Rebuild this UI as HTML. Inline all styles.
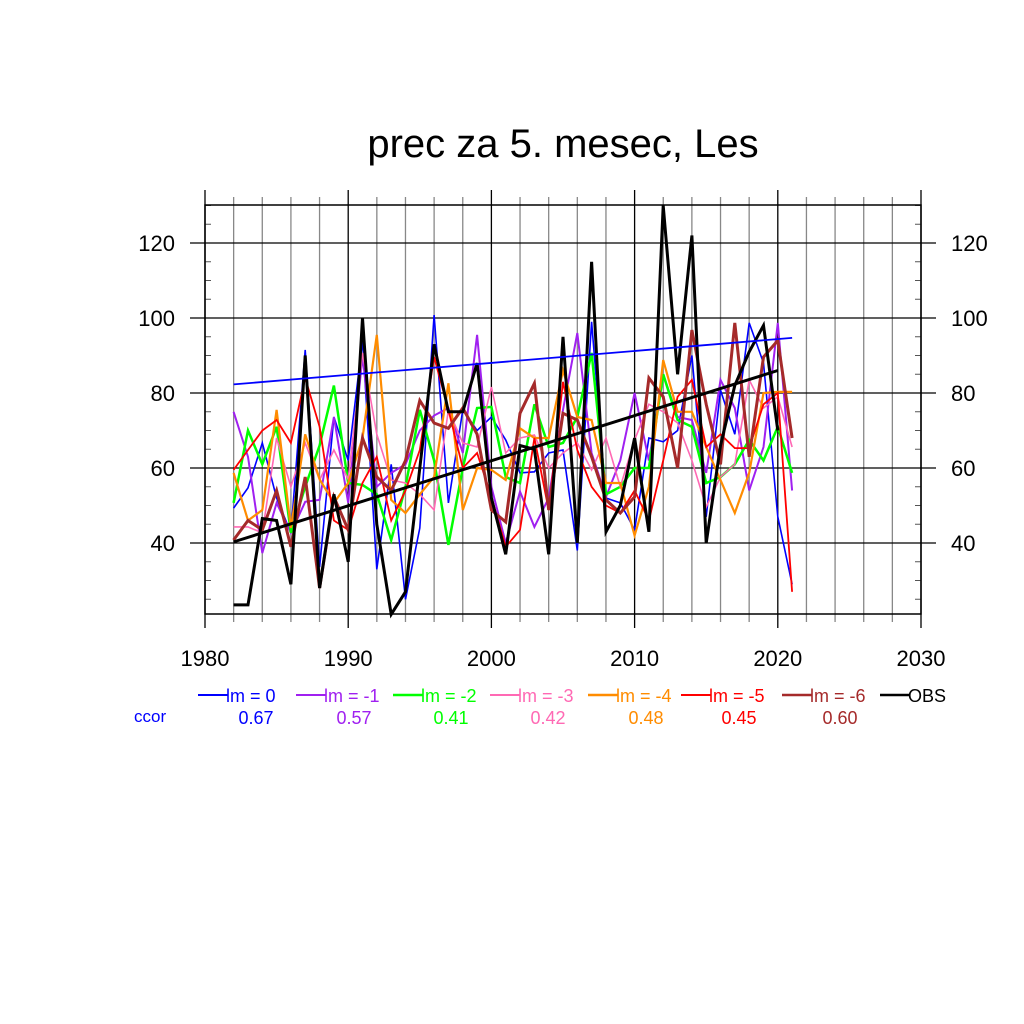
<!DOCTYPE html>
<html><head><meta charset="utf-8"><style>
body{margin:0;background:#fff}
svg{display:block;font-family:"Liberation Sans",Arial,sans-serif}
</style></head><body>
<svg id="chart" width="1024" height="1024" viewBox="0 0 1024 1024">
<rect width="1024" height="1024" fill="#fff"/>
<text x="563" y="157" font-size="40" text-anchor="middle">prec za 5. mesec, Les</text>
<g id="grid"></g><g id="series"></g><g id="axes"></g><g id="legend"></g>
</svg>
<script>
const years = [];
for (let y = 1982; y <= 2021; y++) years.push(y);
const obs = [23.5,23.5,46.5,46,29,90,28,53,35,100,45,21,27,60,93,75,75,88,52,37,66,65,37,95,40,115,43,50,68,43,130,85,122,40,66,82,91,98,70];
const lm0 = [49.3,54.7,66.7,52,42.7,91.5,33.6,73.6,62,94,33,61,25,44,100.8,50.7,75.5,70,73.6,67.5,58.7,59,64,64.8,38,99,52,50.7,43.5,68,67,70,90,47,80.8,69,98.7,88,47,29];
const lm1 = [75,63,37.3,50.7,42.7,51,51.5,73.6,50.7,90,55,58.7,61,70,74,76,64,95.5,55,40,53.7,44.3,52,75.5,96,64,52.3,62,80,62,85,73.6,72.8,58.7,83.5,76,54,65.6,98.7,54];
const lm2 = [50.7,70,61,71,42.7,55,66,82,56,55.5,53,40.8,55,75.5,62,39.5,60,76,76.3,57.6,56,77,65.6,66.7,73.6,90.7,53,55,60,60,85,72.8,71,56,57.6,61,67.5,62,71,58.7];
const lm3 = [44.3,44.3,42.7,68,55,66.7,56.8,64.8,57,90.7,69,56.8,56,53,48.8,75.5,66.7,65.6,81.6,64,68,68.8,60,64,66.7,59.5,68,55,67.5,77,75,72,62,49.6,57.6,61,83.5,76,79,65.6];
const lm4 = [58.7,46,48.8,75.5,44,69,57,50.7,56,68,95.5,51.5,48,53,57.6,82.6,48.8,60,59.5,56.8,70.6,68,68,86,73.6,72.8,56,56,42,55,88.8,75,75,65.6,56.8,48,58.7,80,80.3,80.3];
const lm5 = [59.5,64.8,70,72.8,66.7,84,71,46,43.5,56,63,46,54,64.8,89.6,75.5,60,64,52.3,39,43.5,68,48.8,83,64.8,55,50,48,54,46,62,79,83.5,65.6,69,65.3,65.3,77,80,27];
const lm6 = [40.8,46,43.5,54,39,57.6,28,52.3,43.5,68,57.6,54,62,78,72,70.6,76,69,48.8,45.6,74.6,82.6,48.8,74.6,72.8,63,51.5,48,52.3,84,79,60,96.8,77,61,98.7,63,89.6,94,68];
const ccor = ["0.67","0.57","0.41","0.42","0.48","0.45","0.60"];
const trendBlue = [82.3,94.7];
const trendBlack = [40.3,86];
const xTicks = [1980,1990,2000,2010,2020,2030];
const yTicks = [40,60,80,100,120];

const NS="http://www.w3.org/2000/svg";
const X0=205,X1=921,Y0=205,Y1=614;
const xs=v=>X0+(v-1980)*(X1-X0)/50;
const ys=v=>543-(v-40)*3.75;
function mk(tag,attrs,parent){const e=document.createElementNS(NS,tag);for(const k in attrs)e.setAttribute(k,attrs[k]);parent.appendChild(e);return e;}
const grid=document.getElementById('grid'),ser=document.getElementById('series'),ax=document.getElementById('axes'),leg=document.getElementById('legend');

for(let yr=1982;yr<2030;yr+=2){
  if(yr%10===0)continue;
  const l=mk('line',{x1:xs(yr),x2:xs(yr),y1:197,y2:622,stroke:'#888','stroke-width':1.3},grid);
  
  
}
for(const t of xTicks){
  const l=mk('line',{x1:xs(t),x2:xs(t),y1:190,y2:628,stroke:'#000','stroke-width':1.3},grid);
  
  
  const tx=mk('text',{x:xs(t),y:666,'font-size':22,'text-anchor':'middle'},ax);tx.textContent=t;
  
  
}
for(const t of yTicks){
  const l=mk('line',{x1:190,x2:936,y1:ys(t),y2:ys(t),stroke:'#000','stroke-width':1.3},grid);
  
  
  const a=mk('text',{x:175,y:ys(t)+8,'font-size':22,'text-anchor':'end'},ax);a.textContent=t;
  
  
  const b=mk('text',{x:951,y:ys(t)+8,'font-size':22},ax);b.textContent=t;
  
  
}
for(let v=25;v<=130;v+=5){
  if(v%20===0)continue;
  const y=ys(v);
  const a=mk('line',{x1:X0,x2:X0+6,y1:y,y2:y,stroke:'#555','stroke-width':1},ax);
  
  
  const b=mk('line',{x1:X1-6,x2:X1,y1:y,y2:y,stroke:'#555','stroke-width':1},ax);
  
  
}
const fr=mk('rect',{x:X0,y:Y0,width:X1-X0,height:Y1-Y0,fill:'none',stroke:'#000','stroke-width':1.5},ax);



const series=[
 {d:lm0,c:'#0000ff',w:1.6,n:'lm = 0'},
 {d:lm1,c:'#a020f0',w:2,n:'lm = -1'},
 {d:lm2,c:'#00ff00',w:2.5,n:'lm = -2'},
 {d:lm3,c:'#ff69b4',w:1.6,n:'lm = -3'},
 {d:lm4,c:'#ff8c00',w:2.2,n:'lm = -4'},
 {d:lm5,c:'#ff0000',w:1.8,n:'lm = -5'},
 {d:lm6,c:'#a52a2a',w:3,n:'lm = -6'},
 {d:obs,c:'#000000',w:3,n:'OBS'}
];
series.forEach((s,i)=>{
  const pts=s.d.map((v,j)=>xs(years[j]).toFixed(1)+','+ys(v).toFixed(1)).join(' ');
  const p=mk('polyline',{points:pts,fill:'none',stroke:s.c,'stroke-width':s.w,'stroke-linejoin':'miter'},ser);
  
  
});
const tb=mk('line',{x1:xs(1982),y1:ys(trendBlue[0]),x2:xs(2021),y2:ys(trendBlue[1]),stroke:'#0000ff','stroke-width':1.8},ser);


const tk=mk('line',{x1:xs(1982),y1:ys(trendBlack[0]),x2:xs(2020),y2:ys(trendBlack[1]),stroke:'#000','stroke-width':3},ser);



const lx=[198,296,393,490,588,681,782,880];
series.forEach((s,i)=>{
  const x=lx[i];
  const l=mk('line',{x1:x,x2:x+30,y1:695,y2:695,stroke:s.c,'stroke-width':s.w>2?2.5:2},leg);
  
  
  const t=mk('text',{x:x+28,y:702,'font-size':18,fill:s.c},leg);t.textContent=s.n;
  
  
  if(i<7){
    const c=mk('text',{x:x+58,y:724,'font-size':18,fill:s.c,'text-anchor':'middle'},leg);c.textContent=ccor[i];
    
    
  }
});
const cc=mk('text',{x:134,y:722,'font-size':17,fill:'#0000ff'},leg);cc.textContent='ccor';


</script>
</body></html>
